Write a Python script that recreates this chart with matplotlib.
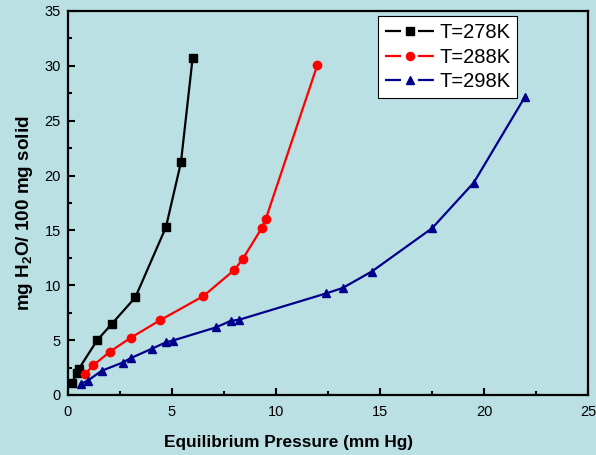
import matplotlib.pyplot as plt
from matplotlib.lines import Line2D
from matplotlib.ticker import MultipleLocator

plt.rcParams['font.family'] = ['Liberation Sans', 'DejaVu Sans']
plt.rcParams['mathtext.fontset'] = 'custom'
plt.rcParams['mathtext.rm'] = 'Liberation Sans:bold'
plt.rcParams['mathtext.bf'] = 'Liberation Sans:bold'

# T=278K
p278 = [0.19, 0.43, 0.53, 1.41, 2.12, 3.24, 4.71, 5.43, 5.99]
w278 = [1.1, 2.0, 2.4, 5.0, 6.5, 8.9, 15.3, 21.2, 30.7]
# T=288K
p288 = [0.82, 1.22, 2.02, 3.01, 4.42, 6.5, 8.0, 8.4, 9.31, 9.5, 11.99]
w288 = [1.9, 2.7, 3.95, 5.2, 6.8, 9.0, 11.4, 12.4, 15.2, 16.0, 30.1]
# T=298K
p298 = [0.61, 0.95, 1.62, 2.63, 3.01, 4.02, 4.71, 5.03, 7.1, 7.82, 8.22,
        12.4, 13.2, 14.6, 17.5, 19.5, 21.97]
w298 = [1.0, 1.3, 2.2, 2.95, 3.35, 4.2, 4.8, 4.95, 6.15, 6.75, 6.85,
        9.25, 9.75, 11.25, 15.2, 19.35, 27.2]

labels = ['T=278K', 'T=288K', 'T=298K']
colors = ['black', 'red', '#00008B']
markers = ['s', 'o', '^']

bg = '#BAE0E3'
fig = plt.figure(figsize=(5.96, 4.55), dpi=100, facecolor=bg)
ax = fig.add_axes([0.114, 0.132, 0.873, 0.844], facecolor=bg)

ax.plot(p278, w278, color=colors[0], marker=markers[0], ms=5.6, lw=1.6)
ax.plot(p288, w288, color=colors[1], marker=markers[1], ms=6, lw=1.6)
ax.plot(p298, w298, color=colors[2], marker=markers[2], ms=6.2, lw=1.6)

ax.set_xlim(0, 25)
ax.set_ylim(0, 35)
ax.xaxis.set_major_locator(MultipleLocator(5))
ax.xaxis.set_minor_locator(MultipleLocator(2.5))
ax.yaxis.set_major_locator(MultipleLocator(5))
ax.yaxis.set_minor_locator(MultipleLocator(2.5))
ax.tick_params(which='both', direction='in', width=1.5, labelsize=10.5)
ax.tick_params(which='major', length=5)
ax.tick_params(which='minor', length=3)
ax.tick_params(axis='x', pad=7)
ax.tick_params(axis='y', pad=5)
for s in ax.spines.values():
    s.set_linewidth(1.6)

ax.set_xlabel('Equilibrium Pressure (mm Hg)', fontsize=12.4, fontweight='bold')
ax.set_ylabel(r'mg H$_\mathbf{2}$O/ 100 mg solid', fontsize=13.6, fontweight='bold')
ax.xaxis.set_label_coords(0.423, -0.104)
ax.yaxis.set_label_coords(-0.064, 0.474)

# legend handles: line - marker - line
lw = 1.6
handles = [Line2D([], [], color=c, marker=m, ms=ms, lw=lw,
                  ls=(0, (11.5 / lw, 12.2 / lw)))
           for c, m, ms in zip(colors, markers, [5.4, 5.8, 6.0])]
leg = ax.legend(handles, labels, loc='upper right', bbox_to_anchor=(0.864, 0.986),
                fontsize=14.5, frameon=True, fancybox=False, edgecolor='black',
                handlelength=2.43, borderpad=0.35, labelspacing=0.27,
                handletextpad=0.25, borderaxespad=0)
leg.get_frame().set_linewidth(0.8)
leg.get_frame().set_facecolor('white')
leg.get_frame().set_alpha(1)

fig.savefig('out.png', dpi=100, facecolor=bg)
